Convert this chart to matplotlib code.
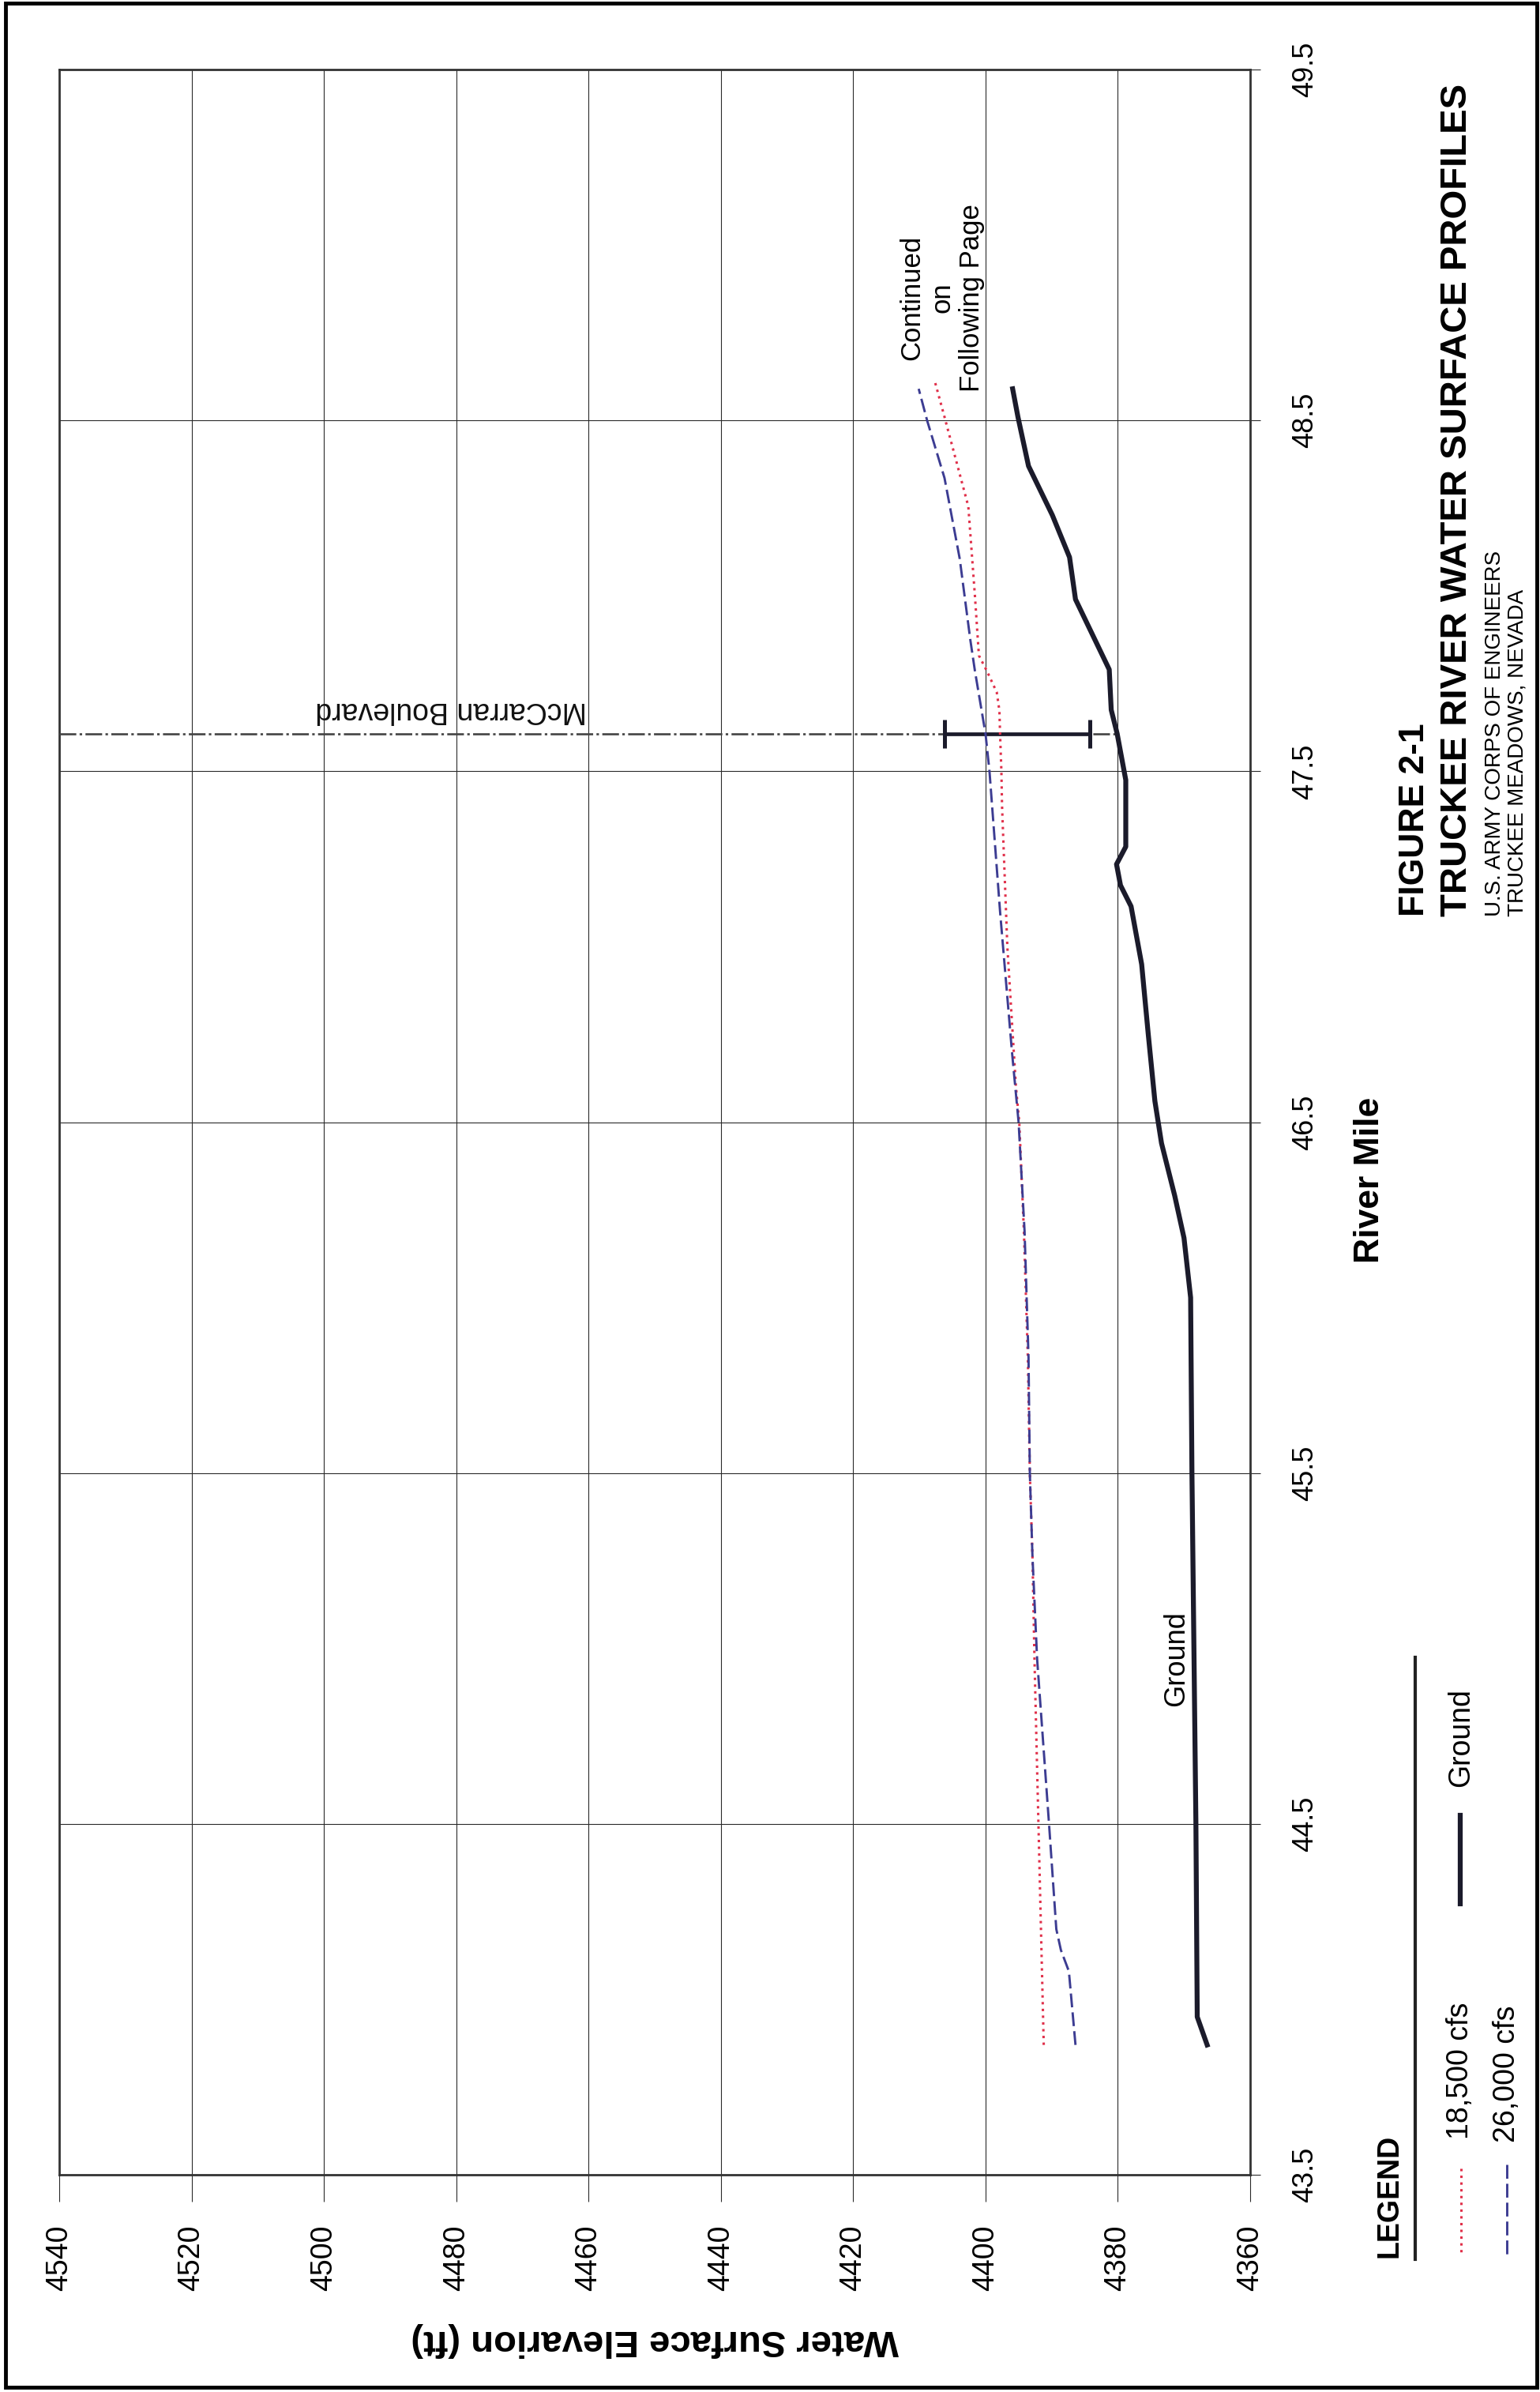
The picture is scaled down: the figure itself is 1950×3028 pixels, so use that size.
import matplotlib
matplotlib.use('Agg')
import matplotlib.pyplot as plt
from matplotlib.patches import Rectangle
import numpy as np

plt.rcParams['font.family'] = ['Liberation Sans', 'DejaVu Sans']

# Tamanho da pagina em pixels (dpi 100)
W, H = 1950, 3028

# ---- dados (milha do rio, elevacao em ft)
ground_mile = [43.87, 43.95, 44.50, 45.00, 45.50, 46.00, 46.17, 46.29, 46.44, 46.56,
               46.75, 46.95, 47.115, 47.175, 47.235, 47.285, 47.475, 47.607, 47.675,
               47.79, 47.99, 48.11, 48.23, 48.37, 48.51, 48.59]
ground_elev = [4366.5, 4368.0, 4368.2, 4368.5, 4368.8, 4369.0, 4370.0, 4371.4, 4373.4, 4374.4,
               4375.4, 4376.4, 4378.0, 4379.6, 4380.2, 4378.8, 4378.8, 4380.1, 4381.0,
               4381.3, 4386.4, 4387.3, 4389.9, 4393.5, 4395.1, 4395.9]

q26000_mile = [43.87, 44.08, 44.14, 44.20, 44.50, 44.97, 45.26, 45.50, 45.83, 46.19,
               46.50, 46.70, 47.10, 47.50, 47.607, 47.786, 47.875, 48.106, 48.336, 48.498, 48.59]
q26000_elev = [4386.4, 4387.4, 4388.6, 4389.3, 4390.4, 4392.2, 4392.9, 4393.3, 4393.5, 4394.1,
               4395.0, 4396.0, 4397.8, 4399.4, 4400.0, 4401.6, 4402.3, 4403.9, 4406.2, 4408.8, 4410.1]

q18500_mile = [43.87, 44.50, 44.97, 45.26, 45.50, 45.83, 46.19, 46.50, 46.60, 47.00,
               47.40, 47.50, 47.607, 47.673, 47.725, 47.786, 47.83, 48.00, 48.255, 48.51, 48.607]
q18500_elev = [4391.2, 4392.0, 4392.6, 4392.9, 4393.3, 4393.6, 4394.2, 4394.9, 4395.4, 4396.7,
               4397.5, 4397.6, 4397.8, 4397.9, 4398.3, 4399.8, 4401.0, 4401.6, 4402.6, 4406.2, 4407.6]

# Ponte McCarran Boulevard
bridge_mile = 47.607
bridge_low = 4384.2
bridge_high = 4406.2
bridge_ground = 4380.1

elev_ticks = list(range(4360, 4541, 20))
mile_ticks = [43.5, 44.5, 45.5, 46.5, 47.5, 48.5, 49.5]

RED = '#e0304a'
BLUE = '#3c3c92'
BLACK = '#1b1b2b'
DOT = (0, (1, 1.8))
DASH = (0, (6, 2.2))

fig = plt.figure(figsize=(W / 100, H / 100), dpi=100)


def fx(px):
    return px / W


def fy(py):
    return 1 - py / H


# ---- eixo principal (pagina girada: elevacao na horizontal, milha na vertical)
ax = fig.add_axes([fx(75), fy(2753), fx(1583) - fx(75), fy(88) - fy(2753)])
ax.set_xlim(4540, 4360)
ax.set_ylim(43.5, 49.5)
ax.set_xticks(elev_ticks)
ax.set_yticks(mile_ticks)
ax.set_yticklabels([f'{m:.1f}' for m in mile_ticks])
ax.set_axisbelow(True)
ax.grid(True, color='#2a2a2a', lw=0.8)

for s in ax.spines.values():
    s.set_color('#333333')
    s.set_linewidth(2.0)

ax.yaxis.tick_right()
ax.tick_params(axis='y', left=False, right=True, labelleft=False, labelright=True,
               length=9.5, width=0.8, color='#2a2a2a', labelrotation=90, pad=28, labelsize=26)
ax.tick_params(axis='x', bottom=True, top=False, length=24.5, width=0.8, color='#2a2a2a',
               labelrotation=90, pad=21, labelsize=27)
for lab in ax.get_yticklabels():
    lab.set_verticalalignment('center')

# linha da ponte (traco-ponto) e viga
ax.plot([4540, bridge_ground], [bridge_mile, bridge_mile], color='#444444', lw=1.9,
        ls=(0, (8, 1.6, 1.2, 1.6)), zorder=3)

ax.plot(ground_elev, ground_mile, color=BLACK, lw=4.5, solid_joinstyle='round', zorder=4)
ax.plot([bridge_high, bridge_low], [bridge_mile, bridge_mile], color=BLACK, lw=3.4, zorder=6)
ax.plot([bridge_high, bridge_low], [bridge_mile, bridge_mile], ls='none', marker='|',
        ms=26, mew=3.6, color=BLACK, zorder=6)
ax.plot(q18500_elev, q18500_mile, color=RED, lw=2.2, ls=DOT, zorder=7)
ax.plot(q26000_elev, q26000_mile, color=BLUE, lw=2.1, ls=DASH, zorder=7)

# textos dentro do grafico
ax.text(4480.8, 47.673, 'McCarran Boulevard', rotation=180, ha='center', va='center',
        fontsize=27, color='#111111')
ax.text(4371.1, 44.97, 'Ground', rotation=90, ha='center', va='center', fontsize=26)
ax.text(4406.6, 48.85, 'Continued\non\nFollowing Page', rotation=90, ha='center',
        va='center', multialignment='center', fontsize=25)

# ---- camada da pagina (coordenadas em pixels)
page = fig.add_axes([0, 0, 1, 1])
page.set_xlim(0, W)
page.set_ylim(H, 0)
page.set_axis_off()

page.add_patch(Rectangle((7, 4), 1939, 3018, fill=False, lw=3.5, ec='black'))

anchor = dict(rotation_mode='anchor', va='baseline')

page.text(1746, 1494, 'River Mile', rotation=90, ha='center', fontsize=32,
          fontweight='bold', **anchor)
page.text(829, 2950, 'Water Surface Elevarion (ft)', rotation=180, ha='center',
          fontsize=34, fontweight='bold', **anchor)

# titulo
page.text(1803, 1160, 'FIGURE 2-1', rotation=90, ha='left', fontsize=32,
          fontweight='bold', **anchor)
page.text(1857, 1160, 'TRUCKEE RIVER WATER SURFACE PROFILES', rotation=90, ha='left',
          fontsize=34, fontweight='bold', **anchor)
page.text(1900, 1160, 'U.S. ARMY CORPS OF ENGINEERS', rotation=90, ha='left',
          fontsize=20, **anchor)
page.text(1928, 1160, 'TRUCKEE MEADOWS, NEVADA', rotation=90, ha='left',
          fontsize=20, **anchor)

# legenda
page.text(1770, 2858, 'LEGEND', rotation=90, ha='left', fontsize=27,
          fontweight='bold', **anchor)
page.plot([1792, 1792], [2098, 2860], color='#222222', lw=3)
page.plot([1850, 1850], [2745, 2855], color=RED, lw=2.2, ls=DOT)
page.text(1859, 2708, '18,500 cfs', rotation=90, ha='left', fontsize=27, **anchor)
page.plot([1908, 1908], [2740, 2855], color=BLUE, lw=2.1, ls=DASH)
page.text(1918, 2712, '26,000 cfs', rotation=90, ha='left', fontsize=27, **anchor)
page.plot([1849, 1849], [2298, 2410], color=BLACK, lw=4.5)
page.text(1860, 2262, 'Ground', rotation=90, ha='left', fontsize=27, **anchor)

fig.savefig('out.png', dpi=100)
print('saved out.png')
